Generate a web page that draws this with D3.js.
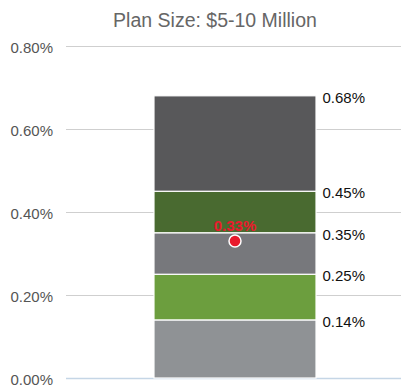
<!DOCTYPE html>
<html>
<head>
<meta charset="utf-8">
<script src="https://cdn.jsdelivr.net/npm/d3@7"></script>
<style>
  body { margin: 0; background: #fff; }
  svg { display: block; font-family: "Liberation Sans", Arial, Helvetica, sans-serif; }
</style>
</head>
<body>
<svg id="chart" width="401" height="387"></svg>
<script>
// Stacked fee ranges for one plan-size bucket (values in percent)
const category = "Plan Size: $5-10 Million";
const boundaries = [0, 0.14, 0.25, 0.35, 0.45, 0.68];
const segmentColors = ["#8f9295", "#6c9e3e", "#77787c", "#496a30", "#58585a"];
const markerValue = 0.33;
const yTicks = [0, 0.2, 0.4, 0.6, 0.8];

const svg = d3.select("#chart");
const W = 401, H = 387;
const margin = { top: 46, right: 0, bottom: 9, left: 66 };
const pct = d => d3.format(".2f")(d) + "%";

const y = d3.scaleLinear().domain([0, 0.8]).range([H - margin.bottom, margin.top]);
const x = d3.scaleBand().domain([category]).range([margin.left, 404]).paddingInner(0).paddingOuter(0.543);

// title
svg.append("text")
  .attr("x", 215).attr("y", 27)
  .attr("text-anchor", "middle")
  .attr("font-size", 19.5)
  .attr("fill", "#666")
  .text(category);

// gridlines + tick labels
const yAxis = d3.axisLeft(y).tickValues(yTicks)
  .tickSize(-(W - margin.left))
  .tickFormat(pct);
const ga = svg.append("g").attr("transform", `translate(${margin.left},0)`).call(yAxis);
ga.select(".domain").remove();
ga.selectAll(".tick line").attr("stroke", "#cfcfcf").attr("stroke-width", 1);
ga.selectAll(".tick text").attr("x", -13).attr("dy", "0.4em").attr("font-size", 15).attr("fill", "#555");
ga.selectAll(".tick").filter(d => d === 0).select("line").attr("stroke", "#c5d6e6").attr("stroke-width", 1.5);

// stacked segments
const segs = d3.range(boundaries.length - 1).map(i => ({ lo: boundaries[i], hi: boundaries[i + 1], color: segmentColors[i] }));
svg.append("g").selectAll("rect").data(segs).join("rect")
  .attr("x", x(category))
  .attr("width", x.bandwidth())
  .attr("y", d => y(d.hi))
  .attr("height", d => y(d.lo) - y(d.hi))
  .attr("fill", d => d.color)
  .attr("stroke", "#fff")
  .attr("stroke-width", 1.2);

// boundary labels
svg.append("g").selectAll("text").data(boundaries.slice(1)).join("text")
  .attr("x", x(category) + x.bandwidth() + 6.5)
  .attr("y", d => y(d) + 7)
  .attr("font-size", 15)
  .attr("fill", "#111")
  .text(pct);

// marker
const cx = x(category) + x.bandwidth() / 2;
svg.append("circle")
  .attr("cx", cx).attr("cy", y(markerValue)).attr("r", 6)
  .attr("fill", "#e8192c").attr("stroke", "#fff").attr("stroke-width", 1.5);
svg.append("text")
  .attr("x", cx).attr("y", y(markerValue) - 10)
  .attr("text-anchor", "middle")
  .attr("font-size", 15)
  .attr("font-weight", "bold")
  .attr("fill", "#e8192c")
  .text(pct(markerValue));
</script>
</body>
</html>
